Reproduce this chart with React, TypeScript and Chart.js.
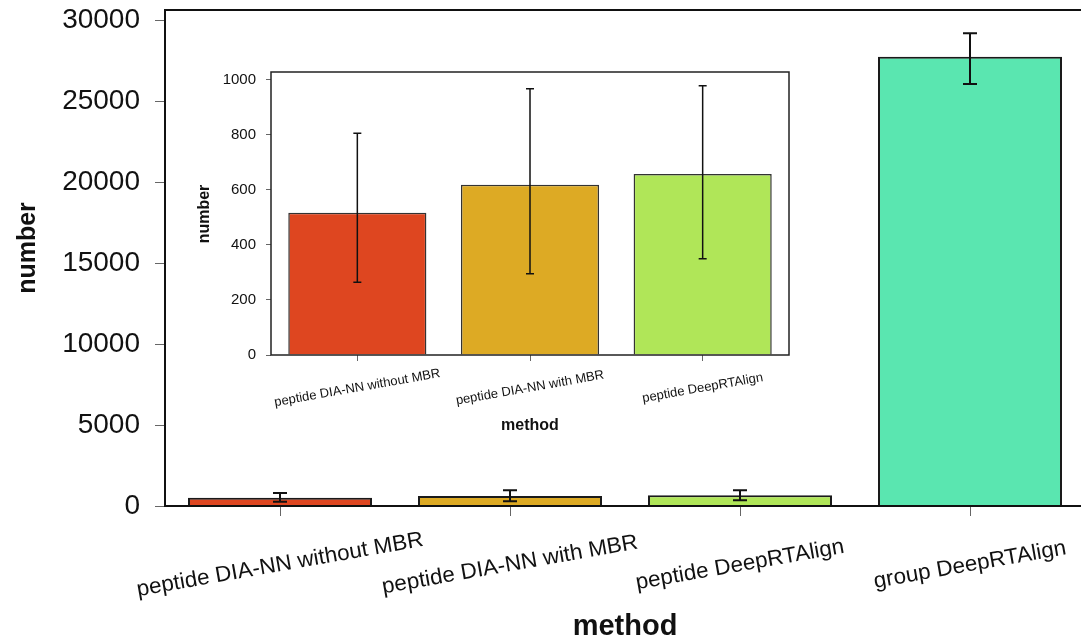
import React, { useEffect, useRef } from "react";
import { Chart, registerables } from "chart.js";

Chart.register(...registerables);

// ---------- data ----------
const mainCategories = [
  "peptide DIA-NN without MBR",
  "peptide DIA-NN with MBR",
  "peptide DeepRTAlign",
  "group DeepRTAlign",
];
const mainValues = [516, 618, 657, 27775];
const mainErrLow = [264, 295, 349, 26087];
const mainErrHigh = [805, 966, 977, 29221];
const mainColors = ["#DE4620", "#DDAA24", "#B0E658", "#5AE6B0"];
const mainYTicks = [0, 5000, 10000, 15000, 20000, 25000, 30000];

const insetCategories = [
  "peptide DIA-NN without MBR",
  "peptide DIA-NN with MBR",
  "peptide DeepRTAlign",
];
const insetValues = [516, 618, 657];
const insetErrLow = [264, 295, 349];
const insetErrHigh = [805, 966, 977];
const insetColors = ["#DE4620", "#DDAA24", "#B0E658"];
const insetYTicks = [0, 200, 400, 600, 800, 1000];

const xTitle = "method";
const yTitle = "number";

const FONT = '"Liberation Sans", Arial, Helvetica, sans-serif';

// ---------- plugins ----------
function errorBarPlugin(low: number[], high: number[], capHalf: number, lw: number, color: string) {
  return {
    id: "errorBars",
    afterDatasetsDraw(chart: any) {
      const ctx = chart.ctx;
      const y = chart.scales.y;
      const meta = chart.getDatasetMeta(0);
      ctx.save();
      ctx.strokeStyle = color;
      ctx.lineWidth = lw;
      meta.data.forEach((bar: any, i: number) => {
        const x = bar.x;
        const yh = y.getPixelForValue(high[i]);
        const yl = y.getPixelForValue(low[i]);
        ctx.beginPath();
        ctx.moveTo(x, yh);
        ctx.lineTo(x, yl);
        ctx.moveTo(x - capHalf, yh);
        ctx.lineTo(x + capHalf, yh);
        ctx.moveTo(x - capHalf, yl);
        ctx.lineTo(x + capHalf, yl);
        ctx.stroke();
      });
      ctx.restore();
    },
  };
}

function framePlugin(lw: number, color: string) {
  return {
    id: "frame",
    afterDraw(chart: any) {
      const { left, top, right, bottom } = chart.chartArea;
      const ctx = chart.ctx;
      ctx.save();
      ctx.strokeStyle = color;
      ctx.lineWidth = lw;
      ctx.strokeRect(left, top, right - left, bottom - top);
      ctx.restore();
    },
  };
}

function textPlugin(cfg: {
  labels: string[];
  labelFont: string;
  labelOffset: number;
  labelStretch: number;
  angle: number;
  xTitleFont: string;
  xTitleBaseline: number;
  yTitleFont: string;
  yTitleBaselineX: number;
  yTitleCenterY: number;
}) {
  return {
    id: "texts",
    afterDraw(chart: any) {
      const ctx = chart.ctx;
      const xs = chart.scales.x;
      const area = chart.chartArea;
      ctx.save();
      ctx.fillStyle = "#111";
      ctx.font = cfg.labelFont;
      ctx.textAlign = "center";
      ctx.textBaseline = "middle";
      cfg.labels.forEach((lab, i) => {
        const x = xs.getPixelForTick(i);
        ctx.save();
        ctx.translate(x, area.bottom + cfg.labelOffset);
        ctx.rotate((-cfg.angle * Math.PI) / 180);
        ctx.scale(cfg.labelStretch, 1);
        ctx.fillText(lab, 0, 0);
        ctx.restore();
      });
      ctx.font = cfg.xTitleFont;
      ctx.textBaseline = "alphabetic";
      ctx.fillText(xTitle, (area.left + area.right) / 2, cfg.xTitleBaseline);
      ctx.save();
      ctx.translate(cfg.yTitleBaselineX, cfg.yTitleCenterY);
      ctx.rotate(-Math.PI / 2);
      ctx.font = cfg.yTitleFont;
      ctx.fillText(yTitle, 0, 0);
      ctx.restore();
      ctx.restore();
    },
  };
}

function fitX(h: number) {
  return (s: any) => {
    s.height = h;
    s.paddingLeft = 0;
    s.paddingRight = 0;
  };
}
function fitY(w: number) {
  return (s: any) => {
    s.width = w;
    s.paddingTop = 0;
    s.paddingBottom = 0;
  };
}

export default function App() {
  const mainRef = useRef<HTMLCanvasElement>(null);
  const insetRef = useRef<HTMLCanvasElement>(null);

  useEffect(() => {
    const main = new Chart(mainRef.current as HTMLCanvasElement, {
      type: "bar",
      data: {
        labels: mainCategories,
        datasets: [
          {
            data: mainValues,
            backgroundColor: mainColors,
            borderColor: "#1a1a1a",
            borderWidth: 2,
            categoryPercentage: 0.8,
            barPercentage: 1,
          },
        ],
      },
      options: {
        responsive: false,
        animation: false,
        layout: { padding: { left: 0, top: 10, right: 5, bottom: 0 } },
        plugins: { legend: { display: false }, tooltip: { enabled: false } },
        scales: {
          x: {
            type: "category",
            grid: { offset: false, drawOnChartArea: false, drawTicks: true, tickLength: 10, color: "#666", lineWidth: 1 },
            border: { display: false },
            ticks: { display: false },
            afterFit: fitX(134),
          },
          y: {
            min: 0,
            max: 30660,
            grid: { drawOnChartArea: false, drawTicks: true, tickLength: 10, color: "#666", lineWidth: 1 },
            border: { display: false },
            afterBuildTicks: (s: any) => {
              s.ticks = mainYTicks.map((v) => ({ value: v }));
            },
            ticks: {
              font: { family: FONT, size: 28 },
              color: "#111",
              padding: 15,
              callback: (v: any) => String(v),
            },
            afterFit: fitY(165),
          },
        },
      } as any,
      plugins: [
        errorBarPlugin(mainErrLow, mainErrHigh, 7, 2, "#111"),
        framePlugin(2, "#111"),
        textPlugin({
          labels: mainCategories,
          labelFont: `22px ${FONT}`,
          labelOffset: 59,
          labelStretch: 1.02,
          angle: 10,
          xTitleFont: `bold 29px ${FONT}`,
          xTitleBaseline: 635,
          yTitleFont: `bold 25px ${FONT}`,
          yTitleBaselineX: 35,
          yTitleCenterY: 248,
        }),
      ],
    });

    const inset = new Chart(insetRef.current as HTMLCanvasElement, {
      type: "bar",
      data: {
        labels: insetCategories,
        datasets: [
          {
            data: insetValues,
            backgroundColor: insetColors,
            borderColor: "#333",
            borderWidth: 1.5,
            categoryPercentage: 0.8,
            barPercentage: 1,
          },
        ],
      },
      options: {
        responsive: false,
        animation: false,
        layout: { padding: { left: 0, top: 12, right: 11, bottom: 0 } },
        plugins: { legend: { display: false }, tooltip: { enabled: false } },
        scales: {
          x: {
            type: "category",
            grid: { offset: false, drawOnChartArea: false, drawTicks: true, tickLength: 6, color: "#666", lineWidth: 1 },
            border: { display: false },
            ticks: { display: false },
            afterFit: fitX(85),
          },
          y: {
            min: 0,
            max: 1027,
            grid: { drawOnChartArea: false, drawTicks: true, tickLength: 5, color: "#666", lineWidth: 1 },
            border: { display: false },
            afterBuildTicks: (s: any) => {
              s.ticks = insetYTicks.map((v) => ({ value: v }));
            },
            ticks: {
              font: { family: FONT, size: 15 },
              color: "#111",
              padding: 10,
              callback: (v: any) => String(v),
            },
            afterFit: fitY(91),
          },
        },
      } as any,
      plugins: [
        errorBarPlugin(insetErrLow, insetErrHigh, 4, 1.5, "#111"),
        framePlugin(1.5, "#222"),
        textPlugin({
          labels: insetCategories,
          labelFont: `13px ${FONT}`,
          labelOffset: 33,
          labelStretch: 1,
          angle: 10,
          xTitleFont: `bold 16px ${FONT}`,
          xTitleBaseline: 370,
          yTitleFont: `bold 16px ${FONT}`,
          yTitleBaselineX: 28.5,
          yTitleCenterY: 154,
        }),
      ],
    });

    return () => {
      main.destroy();
      inset.destroy();
    };
  }, []);

  return (
    <div
      style={{
        position: "fixed",
        left: 0,
        top: 0,
        width: 1081,
        height: 640,
        overflow: "hidden",
        background: "#fff",
      }}
    >
      <div style={{ position: "absolute", left: 0, top: 0, width: 1090, height: 640 }}>
        <canvas ref={mainRef} width={1090} height={640} style={{ display: "block" }} />
      </div>
      <div style={{ position: "absolute", left: 180, top: 60, width: 620, height: 380 }}>
        <canvas ref={insetRef} width={620} height={380} style={{ display: "block" }} />
      </div>
    </div>
  );
}
